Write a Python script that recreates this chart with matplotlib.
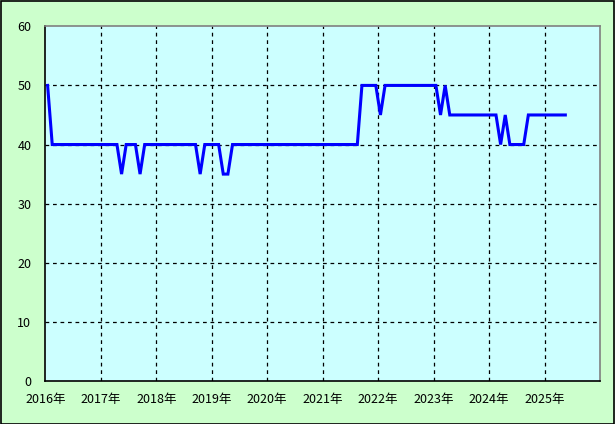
import matplotlib
matplotlib.use("Agg")
import matplotlib.pyplot as plt
from matplotlib.patches import Rectangle

plt.rcParams['font.family'] = ['Noto Sans CJK JP', 'DejaVu Sans']

# Monthly values, Jan 2016 .. May 2025
values = [
    50,
    40, 40, 40, 40, 40, 40, 40, 40, 40, 40, 40, 40, 40, 40, 40,   # 1-15
    35,                                                           # 16
    40, 40, 40,                                                   # 17-19
    35,                                                           # 20
    40, 40, 40, 40, 40, 40, 40, 40, 40, 40, 40, 40,               # 21-32
    35,                                                           # 33
    40, 40, 40, 40,                                               # 34-37
    35, 35,                                                       # 38-39
    40, 40, 40, 40, 40, 40, 40, 40, 40, 40, 40, 40, 40, 40,       # 40-53
    40, 40, 40, 40, 40, 40, 40, 40, 40, 40, 40, 40, 40, 40,       # 54-67
    50, 50, 50, 50,                                               # 68-71
    45,                                                           # 72
    50, 50, 50, 50, 50, 50, 50, 50, 50, 50, 50, 50,               # 73-84
    45,                                                           # 85
    50,                                                           # 86
    45, 45, 45, 45, 45, 45, 45, 45, 45, 45, 45,                   # 87-97
    40,                                                           # 98
    45,                                                           # 99
    40, 40, 40, 40,                                               # 100-103
    45, 45, 45, 45, 45, 45, 45, 45, 45,                           # 104-112
]
start_year = 2016
years = list(range(2016, 2026))
year_labels = [f"{y}年" for y in years]
y_ticks = [0, 10, 20, 30, 40, 50, 60]

x = [start_year + (i + 0.5) / 12 for i in range(len(values))]

fig = plt.figure(figsize=(6.15, 4.24), dpi=100)
fig.patch.set_facecolor('#CCFFCC')
ax = fig.add_axes([45.3 / 615, 43 / 424, (600 - 45.3) / 615, (381 - 26.3) / 424])
ax.set_facecolor('#CCFFFF')

ax.plot(x, values, color='#0000FF', lw=2.2, solid_joinstyle='miter', zorder=3)

ax.set_xlim(2016, 2026)
ax.set_ylim(0, 60)
ax.set_xticks(years)
ax.set_xticklabels(year_labels)
ax.set_yticks(y_ticks)
ax.tick_params(axis='both', length=0, labelsize=9, colors='black')
ax.tick_params(axis='x', pad=9)
ax.tick_params(axis='y', pad=10)

for yr in years[1:]:
    ax.axvline(yr, color='black', lw=0.9, ls=(0, (3, 3)), zorder=1)
for yv in y_ticks[1:-1]:
    ax.axhline(yv, color='black', lw=0.9, ls=(0, (3, 3)), zorder=1)

ax.spines['left'].set_color('black')
ax.spines['bottom'].set_color('black')
ax.spines['top'].set_color('#808080')
ax.spines['right'].set_color('#808080')
for s in ax.spines.values():
    s.set_linewidth(1.2)
    s.set_zorder(4)

fig.add_artist(Rectangle((0.5 / 615, 0.5 / 424), 613.5 / 615, 423 / 424,
                         transform=fig.transFigure, fill=False,
                         edgecolor='black', lw=1.2))

fig.savefig('out.png', dpi=100, facecolor=fig.get_facecolor())
